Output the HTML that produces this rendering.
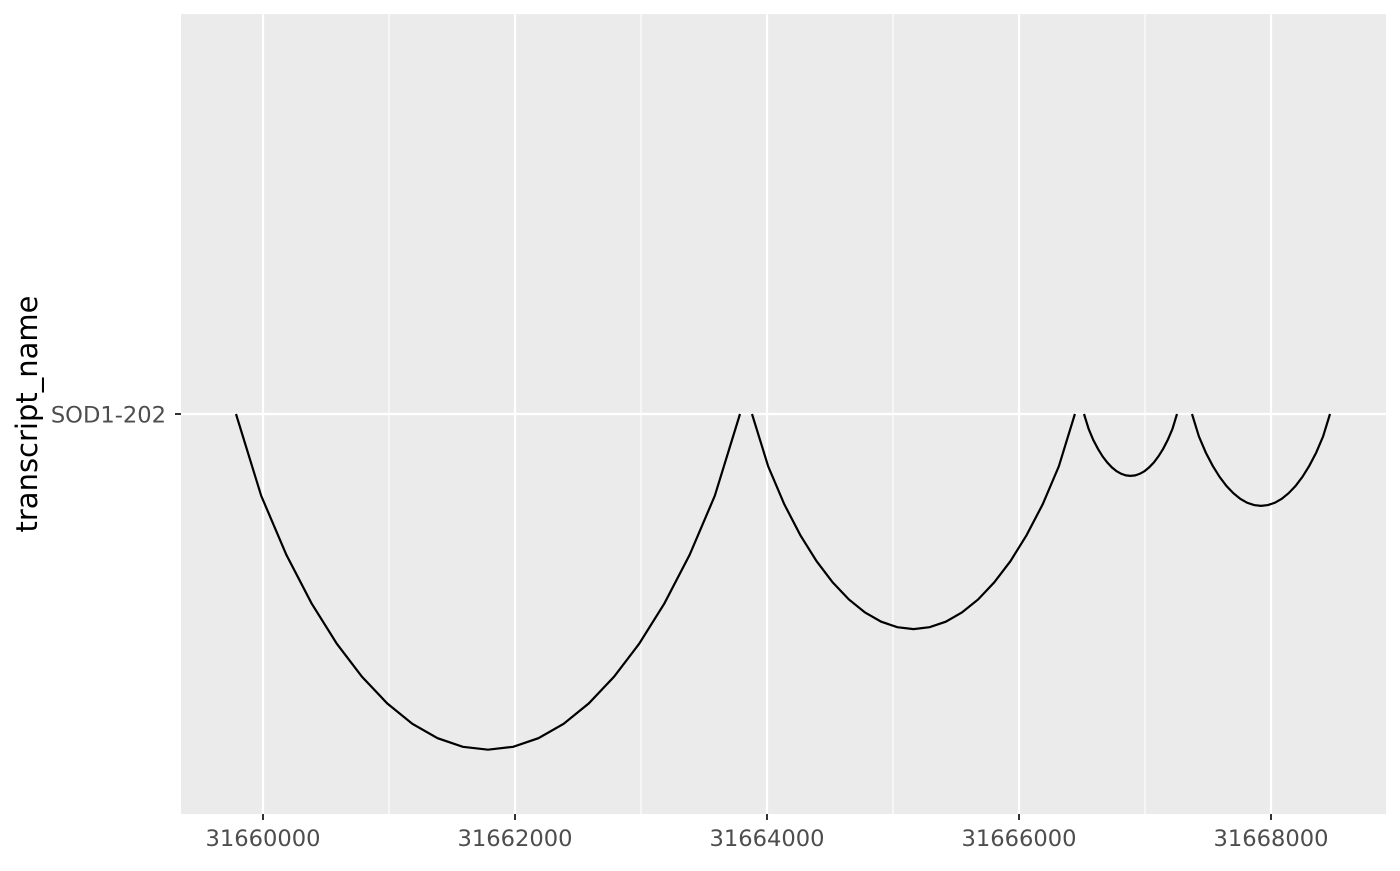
<!DOCTYPE html>
<html><head><meta charset="utf-8"><style>
body{margin:0;background:#fff;}
svg text{font-family:"DejaVu Sans","Liberation Sans",sans-serif;}
</style></head><body>
<svg width="1400" height="866" viewBox="0 0 1400 866">
<rect x="181" y="14" width="1205" height="800" fill="#ebebeb"/>
<g id="grid"></g>
<g id="arcs"></g>
<g id="axes"></g>
<text x="0" y="0" transform="translate(37,414) rotate(-90)" text-anchor="middle" font-size="29" fill="#000">transcript_name</text>
</svg>
<script>
const xTicks=[31660000,31662000,31664000,31666000,31668000];
const xTickLabels=["31660000","31662000","31664000","31666000","31668000"];
const yCategories=["SOD1-202"];
const arcStarts=[31659786,31663881,31666516,31667373];
const arcEnds=[31663786,31666444,31667254,31668468];
const arcTranscript=["SOD1-202","SOD1-202","SOD1-202","SOD1-202"];

const NS="http://www.w3.org/2000/svg";
function xs(v){return 263+(v-31660000)*0.126;}
function ys(c){return 414;}
function mk(tag,attrs,parent){const e=document.createElementNS(NS,tag);for(const k in attrs)e.setAttribute(k,attrs[k]);parent.appendChild(e);return e;}
const grid=document.getElementById('grid'),axes=document.getElementById('axes'),arcs=document.getElementById('arcs');
for(let i=0;i<xTicks.length-1;i++){
  const m=mk('line',{x1:xs((xTicks[i]+xTicks[i+1])/2),x2:xs((xTicks[i]+xTicks[i+1])/2),y1:14,y2:814,stroke:'#fff','stroke-width':1.1},grid);
  
  
}
xTicks.forEach((t,i)=>{
  const g=mk('line',{x1:xs(t),x2:xs(t),y1:14,y2:814,stroke:'#fff','stroke-width':2.2},grid);
  
  
  const tk=mk('line',{x1:xs(t),x2:xs(t),y1:814,y2:820,stroke:'#333','stroke-width':2},axes);
  
  
  const tx=mk('text',{x:xs(t),y:846,'text-anchor':'middle','font-size':22.6,fill:'#4d4d4d'},axes);
  tx.textContent=xTickLabels[i];
  
  
});
yCategories.forEach(c=>{
  const g=mk('line',{x1:181,x2:1386,y1:ys(c),y2:ys(c),stroke:'#fff','stroke-width':2.2},grid);
  
  
  const tk=mk('line',{x1:175,x2:181,y1:ys(c),y2:ys(c),stroke:'#333','stroke-width':2},axes);
  
  
  const tx=mk('text',{x:166,y:ys(c)+8.5,'text-anchor':'end','font-size':22.6,fill:'#4d4d4d'},axes);
  tx.textContent=c;
  
  
});
arcStarts.forEach((s,i)=>{
  const x0=xs(s),x1=xs(arcEnds[i]),y0=ys(arcTranscript[i]);
  const d=0.666*(x1-x0);
  const pts=[];
  const N=20;
  for(let k=0;k<=N;k++){const t=k/N;const u=2*t-1;pts.push((x0+(x1-x0)*t).toFixed(1)+','+(y0+d*Math.pow(Math.max(0,1-u*u),0.85)).toFixed(1));}
  const p=mk('polyline',{points:pts.join(' '),fill:'none',stroke:'#000','stroke-width':2.2},arcs);
  
  
});
</script>
</body></html>
